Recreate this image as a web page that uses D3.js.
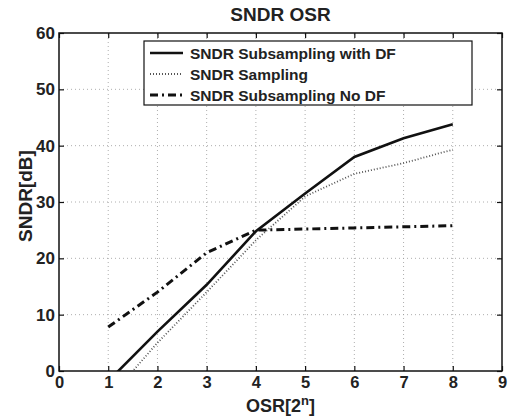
<!DOCTYPE html>
<html>
<head>
<meta charset="utf-8">
<script src="https://cdn.jsdelivr.net/npm/d3@7"></script>
<style>
  body { margin: 0; background: #fff; }
  text { font-family: "Liberation Sans", Arial, sans-serif; font-weight: bold; fill: #222; }
</style>
</head>
<body>
<svg id="chart" width="512" height="419"></svg>
<script>
// data
const osr = [1, 2, 3, 4, 5, 6, 7, 8]
const sndrSubDF = [-1.8, 7.0, 15.3, 24.8, 31.5, 38.0, 41.3, 43.8]
const sndrSampling = [-5.0, 5.0, 14.0, 23.2, 31.0, 35.0, 36.9, 39.3]
const sndrSubNoDF = [7.8, 14.0, 21.0, 25.0, 25.2, 25.4, 25.6, 25.8]
const seriesNames = ["SNDR Subsampling with DF", "SNDR Sampling", "SNDR Subsampling No DF"]
const xTicks = [0, 1, 2, 3, 4, 5, 6, 7, 8, 9]
const yTicks = [0, 10, 20, 30, 40, 50, 60]

const margin = {left: 59, right: 10, top: 33, bottom: 48}
const W = 512, H = 419

const svg = d3.select("#chart")

const x = d3.scaleLinear().domain([0, 9]).range([margin.left, W - margin.right])
const y = d3.scaleLinear().domain([0, 60]).range([H - margin.bottom, margin.top])

// grid (dotted)
const grid = svg.append("g").attr("class", "grid")
grid.selectAll(".gx").data(xTicks.slice(1, -1)).enter().append("line")
  .attr("x1", d => x(d)).attr("x2", d => x(d))
  .attr("y1", y(0)).attr("y2", y(60))
  .attr("stroke", "#999").attr("stroke-width", 0.8).attr("stroke-dasharray", "1,3")
grid.selectAll(".gy").data(yTicks.slice(1, -1)).enter().append("line")
  .attr("y1", d => y(d)).attr("y2", d => y(d))
  .attr("x1", x(0)).attr("x2", x(9))
  .attr("stroke", "#999").attr("stroke-width", 0.8).attr("stroke-dasharray", "1,3")

// axes with inward ticks, on all four sides
const tickLen = 5
svg.append("g").attr("class", "xax").attr("transform", `translate(0,${y(0)})`)
  .call(d3.axisBottom(x).tickValues(xTicks).tickSizeInner(-tickLen).tickSizeOuter(0).tickPadding(5).tickFormat(d3.format("d")))
  .call(g => g.select(".domain").remove())
svg.append("g").attr("transform", `translate(0,${y(60)})`)
  .call(d3.axisTop(x).tickValues(xTicks).tickSizeInner(-tickLen).tickSizeOuter(0).tickFormat(""))
  .call(g => g.select(".domain").remove())
svg.append("g").attr("class", "yax").attr("transform", `translate(${x(0)},0)`)
  .call(d3.axisLeft(y).tickValues(yTicks).tickSizeInner(-tickLen).tickSizeOuter(0).tickPadding(4).tickFormat(d3.format("d")))
  .call(g => g.select(".domain").remove())
svg.append("g").attr("transform", `translate(${x(9)},0)`)
  .call(d3.axisRight(y).tickValues(yTicks).tickSizeInner(-tickLen).tickSizeOuter(0).tickFormat(""))
  .call(g => g.select(".domain").remove())

svg.selectAll(".tick line").attr("stroke", "#111").attr("stroke-width", 1.2)
svg.selectAll(".tick text")
  .style("font-family", "'Liberation Sans', Arial, sans-serif")
  .style("font-weight", "bold").style("font-size", "17px").attr("fill", "#222")
svg.selectAll(".xax .tick text").style("font-size", "16.5px")

// frame
svg.append("rect")
  .attr("x", x(0)).attr("y", y(60))
  .attr("width", x(9) - x(0)).attr("height", y(0) - y(60))
  .attr("fill", "none").attr("stroke", "#111").attr("stroke-width", 1.5)

// clip for lines
svg.append("defs").append("clipPath").attr("id", "plotclip")
  .append("rect")
  .attr("x", x(0)).attr("y", y(60))
  .attr("width", x(9) - x(0)).attr("height", y(0) - y(60))

const styles = [
  {vals: sndrSubDF, stroke: "#111", width: 2.6, dash: null},
  {vals: sndrSampling, stroke: "#555", width: 1.8, dash: "1,2"},
  {vals: sndrSubNoDF, stroke: "#111", width: 3, dash: "8,4,2,4"}
]

const line = d3.line().x(d => x(d[0])).y(d => y(d[1]))
const lines = svg.append("g").attr("clip-path", "url(#plotclip)")
styles.forEach(s => {
  lines.append("path")
    .datum(osr.map((o, i) => [o, s.vals[i]]))
    .attr("d", line)
    .attr("fill", "none")
    .attr("stroke", s.stroke)
    .attr("stroke-width", s.width)
    .attr("stroke-dasharray", s.dash)
})

// legend
const lg = svg.append("g")
lg.append("rect").attr("x", 144).attr("y", 41).attr("width", 328).attr("height", 64)
  .attr("fill", "#fff").attr("stroke", "#111").attr("stroke-width", 1.2)
styles.forEach((s, i) => {
  const ly = 53 + i * 21
  lg.append("line").attr("x1", 150).attr("x2", 183).attr("y1", ly).attr("y2", ly)
    .attr("stroke", s.stroke).attr("stroke-width", s.width).attr("stroke-dasharray", s.dash)
  lg.append("text").attr("x", 190).attr("y", ly + 5.5)
    .style("font-size", "15.5px").text(seriesNames[i])
})

// title and axis labels
svg.append("text").attr("x", (x(0) + x(9)) / 2).attr("y", 21)
  .attr("text-anchor", "middle").style("font-size", "19px").text("SNDR OSR")

const xl = svg.append("text").attr("x", (x(0) + x(9)) / 2).attr("y", 412)
  .attr("text-anchor", "middle").style("font-size", "18px")
xl.append("tspan").text("OSR[2")
xl.append("tspan").attr("dy", -7).style("font-size", "13px").text("n")
xl.append("tspan").attr("dy", 7).text("]")

svg.append("text")
  .attr("transform", `translate(32,${(y(0) + y(60)) / 2 - 6}) rotate(-90)`)
  .attr("text-anchor", "middle").style("font-size", "19px").text("SNDR[dB]")
</script>
</body>
</html>
